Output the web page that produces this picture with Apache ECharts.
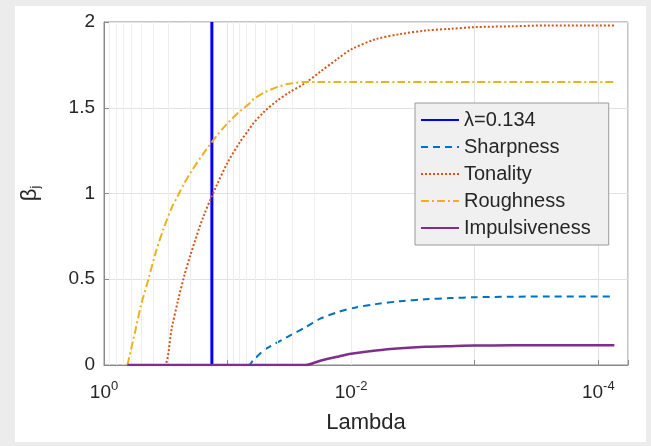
<!DOCTYPE html>
<html>
<head>
<meta charset="utf-8">
<script src="https://cdn.jsdelivr.net/npm/echarts@6/dist/echarts.min.js"></script>
<style>
  html, body { margin: 0; padding: 0; background: #ececec; width: 651px; height: 446px; overflow: hidden; }
  #c { position: absolute; left: 15px; top: 6px; width: 631px; height: 436px; background: #ffffff; }
</style>
</head>
<body>
<div id="c"></div>
<script>
// ---- data ----
const lambdaStar = 0.134;
const lambdas = [0.646, 0.562, 0.501, 0.437, 0.380, 0.324, 0.282, 0.251, 0.224, 0.200,
  0.158, 0.123, 0.100, 0.0794, 0.0676, 0.0617, 0.0501, 0.0398, 0.0316, 0.0234,
  0.0178, 0.0126, 0.0100, 0.00631, 0.00398, 0.00251, 0.00158, 0.00100, 0.000501,
  0.000251, 0.000126, 0.0000741];
const sharpness = [0, 0, 0, 0, 0, 0, 0, 0, 0, 0,
  0, 0, 0, 0, 0, 0.03, 0.09, 0.13, 0.17, 0.22,
  0.27, 0.31, 0.33, 0.355, 0.372, 0.383, 0.39, 0.395, 0.398,
  0.40, 0.40, 0.40];
const tonality = [0, 0, 0, 0, 0, 0, 0.22, 0.38, 0.52, 0.64,
  0.86, 1.045, 1.18, 1.30, 1.37, 1.41, 1.48, 1.54, 1.59, 1.645,
  1.71, 1.79, 1.84, 1.90, 1.93, 1.95, 1.96, 1.97, 1.975,
  1.98, 1.98, 1.98];
const roughness = [0, 0.19, 0.35, 0.5, 0.66, 0.81, 0.92, 0.99, 1.06, 1.12,
  1.23, 1.335, 1.41, 1.48, 1.52, 1.55, 1.59, 1.62, 1.64, 1.65,
  1.65, 1.65, 1.65, 1.65, 1.65, 1.65, 1.65, 1.65, 1.65,
  1.65, 1.65, 1.65];
const impulsiveness = [0, 0, 0, 0, 0, 0, 0, 0, 0, 0,
  0, 0, 0, 0, 0, 0, 0, 0, 0, 0,
  0.025, 0.05, 0.065, 0.085, 0.098, 0.106, 0.11, 0.113, 0.115,
  0.115, 0.115, 0.115];
const seriesNames = ['λ=0.134', 'Sharpness', 'Tonality', 'Roughness', 'Impulsiveness'];
const yTicks = [0, 0.5, 1, 1.5, 2];

const xMin = 5.75e-5, xMax = 1;
const FONT = 'Liberation Sans, Arial, Helvetica, sans-serif';
const TXT = '#262626';

function pairs(vals) { return lambdas.map((l, i) => [l, vals[i]]); }

// minor vertical grid positions (axis decoration, m x 10^-k)
const minorGrid = [];
for (let k = 0; k <= 5; k++) {
  for (let m = 2; m <= 9; m++) {
    const v = m * Math.pow(10, -k);
    if (v > xMin && v < xMax) minorGrid.push({ xAxis: v });
  }
}

function lineSeries(name, data, color, width, type, z) {
  return {
    name: name, type: 'line', symbol: 'none', showSymbol: false,
    smooth: 0.3,
    data: data,
    lineStyle: { color: color, width: width, type: type },
    itemStyle: { color: color }, z: z
  };
}

const chart = echarts.init(document.getElementById('c'), null, { renderer: 'canvas' });
chart.setOption({
  animation: false,
  textStyle: { fontFamily: FONT },
  grid: { left: 89, right: 18, top: 16, bottom: 77, show: true, borderColor: '#8a8a8a', borderWidth: 1,
          outerBoundsMode: 'none', containLabel: false },
  legend: {
    orient: 'vertical', left: 400, top: 97,
    data: seriesNames,
    backgroundColor: '#f0f0f0', borderColor: '#9a9a9a', borderWidth: 1,
    padding: [7, 18, 7, 5],
    itemWidth: 38, itemHeight: 14, itemGap: 7,
    itemStyle: { opacity: 0 },
    textStyle: { fontSize: 20, color: TXT, fontFamily: FONT }
  },
  xAxis: {
    type: 'log', logBase: 10, inverse: true, min: xMin, max: xMax,
    name: 'Lambda', nameLocation: 'middle', nameGap: 47,
    nameTextStyle: { fontSize: 22, color: TXT, fontFamily: FONT },
    axisLine: { show: true, lineStyle: { color: '#8a8a8a' } },
    axisTick: { show: true, inside: true, length: 5, lineStyle: { color: '#8a8a8a' } },
    splitLine: { show: true, lineStyle: { color: '#e2e2e2' } },
    axisLabel: {
      margin: 15,
      formatter: function (v) {
        const e = Math.log10(v);
        const r = Math.round(e);
        if (Math.abs(e - r) > 1e-6 || r % 2 !== 0) return '';
        return '{b|10}{s|' + r + '}';
      },
      rich: {
        b: { fontSize: 19, color: TXT, fontFamily: FONT, verticalAlign: 'bottom' },
        s: { fontSize: 13, color: TXT, fontFamily: FONT, verticalAlign: 'bottom', padding: [0, 0, 9, 0] }
      }
    }
  },
  yAxis: {
    type: 'value', min: 0, max: 2, interval: 0.5,
    name: '{b|β}{s|j}', nameLocation: 'middle', nameGap: 62,
    nameTextStyle: {
      rich: {
        b: { fontSize: 22, color: TXT, fontFamily: FONT },
        s: { fontSize: 13, color: TXT, fontFamily: FONT, padding: [12, 0, 0, 0] }
      }
    },
    axisLine: { show: true, lineStyle: { color: '#8a8a8a' } },
    axisTick: { show: true, inside: true, length: 5, lineStyle: { color: '#8a8a8a' } },
    splitLine: { show: true, lineStyle: { color: '#e2e2e2' } },
    axisLabel: {
      fontSize: 19, color: TXT, fontFamily: FONT, margin: 9,
      formatter: function (v) { return yTicks.indexOf(v) >= 0 ? String(v) : ''; }
    }
  },
  series: [
    {
      name: 'grid-minor', type: 'line', data: [], silent: true,
      markLine: {
        silent: true, symbol: 'none', animation: false,
        label: { show: false },
        lineStyle: { color: '#eeeeee', width: 1, type: 'solid' },
        data: minorGrid
      }
    },
    {
      name: seriesNames[0], type: 'line', symbol: 'none', showSymbol: false,
      data: [[lambdaStar, 0], [lambdaStar, 2]],
      lineStyle: { color: '#0000ff', width: 3 }, itemStyle: { color: '#0000ff' }, z: 3
    },
    lineSeries(seriesNames[1], pairs(sharpness), '#0072BD', 2, [7, 5], 4),
    lineSeries(seriesNames[2], pairs(tonality), '#D95319', 2, [2, 2], 5),
    lineSeries(seriesNames[3], pairs(roughness), '#EDB120', 2, [8, 3, 2, 3], 6),
    lineSeries(seriesNames[4], pairs(impulsiveness), '#7E2F8E', 2.5, 'solid', 7)
  ]
});
</script>
</body>
</html>
